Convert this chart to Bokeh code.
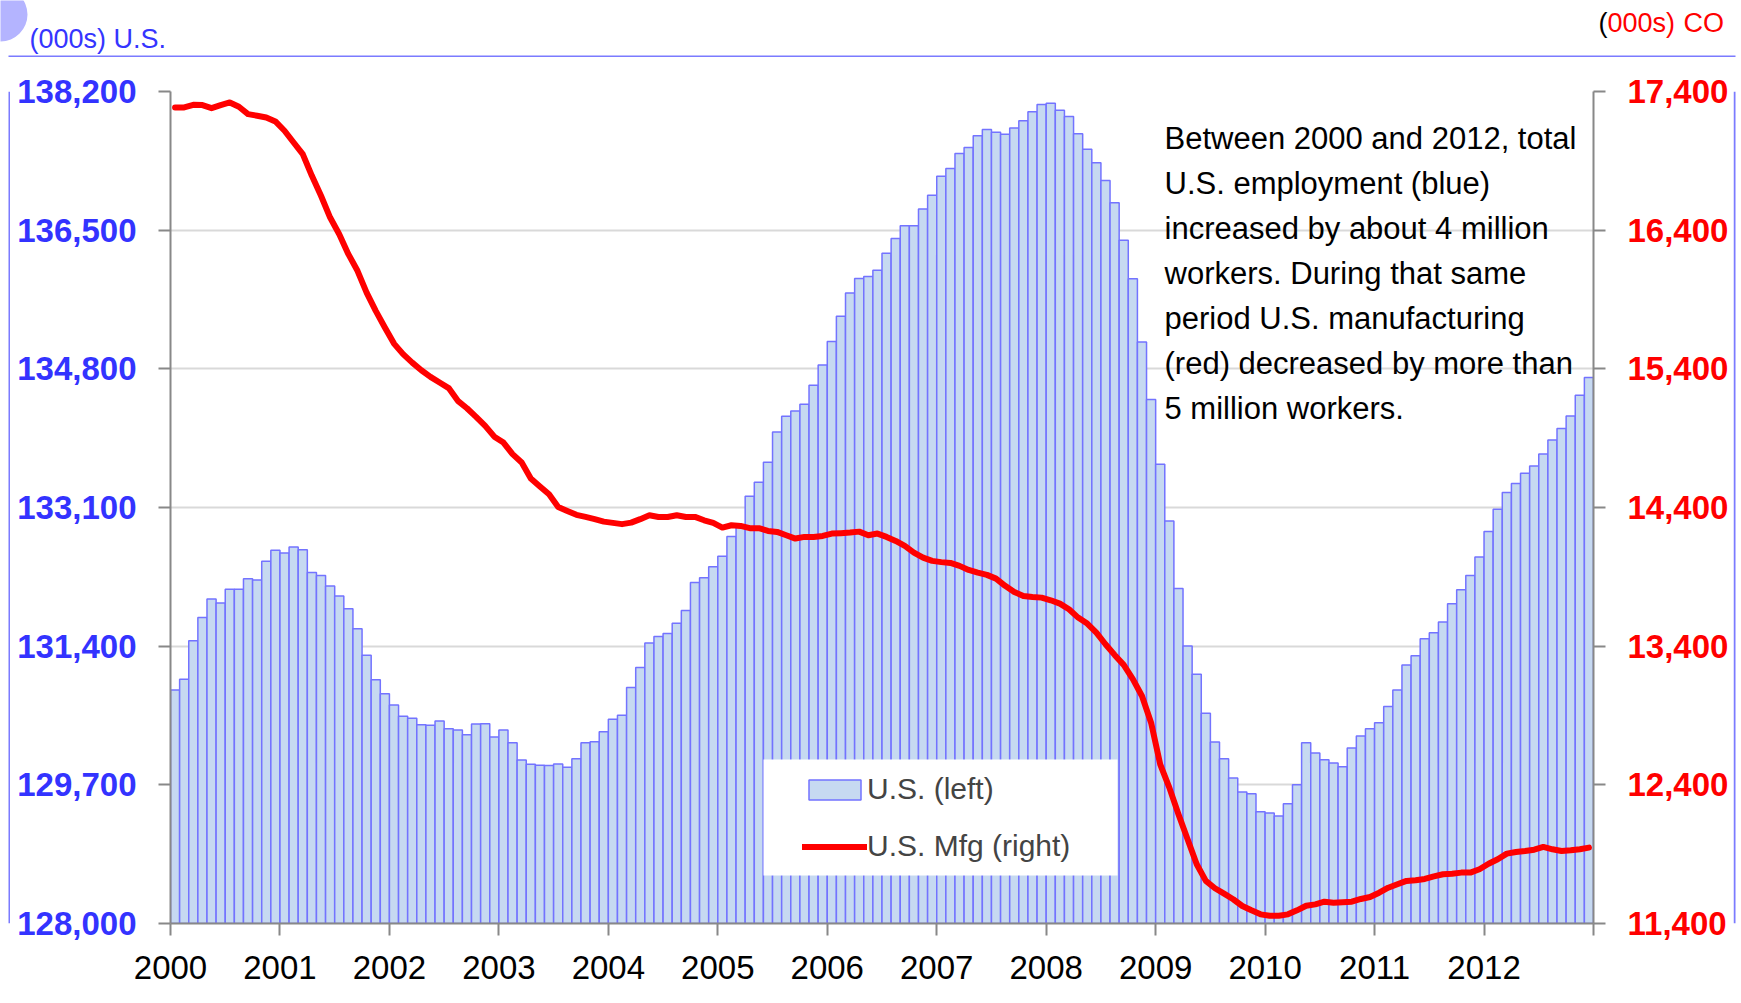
from bokeh.plotting import figure
from bokeh.layouts import column, row
from bokeh.models import (Range1d, LinearAxis, FixedTicker, NumeralTickFormatter, Label,
                          BoxAnnotation, Legend, LegendItem, ColumnDataSource)
from bokeh.embed import file_html
from bokeh.resources import INLINE

# ---------------- data ----------------
years = [str(y) for y in range(2000, 2013)]

# Total U.S. nonfarm employment (000s), monthly Jan 2000 - Dec 2012 (left axis)
us_emp = [
    130863, 130994, 131467, 131750, 131979, 131930, 132097, 132097, 132228, 132212, 132441, 132576,
    132543, 132616, 132583, 132302, 132265, 132138, 132016, 131860, 131615, 131288, 130989, 130818,
    130679, 130540, 130516, 130438, 130430, 130483, 130389, 130373, 130315, 130446, 130450, 130287,
    130373, 130217, 130005, 129952, 129940, 129936, 129956, 129915, 130021, 130217, 130229, 130352,
    130504, 130553, 130892, 131137, 131440, 131517, 131554, 131681, 131836, 132179, 132240, 132375,
    132502, 132743, 132880, 133238, 133410, 133655, 134027, 134219, 134284, 134366, 134600, 134848,
    135134, 135445, 135731, 135907, 135931, 136009, 136218, 136397, 136553, 136553, 136761, 136929,
    137162, 137256, 137440, 137513, 137657, 137734, 137701, 137677, 137754, 137840, 137951, 138040,
    138057, 137971, 137893, 137681, 137493, 137325, 137108, 136835, 136377, 135903, 135130, 134423,
    133630, 132935, 132106, 131403, 131055, 130577, 130226, 130021, 129784, 129612, 129592, 129371,
    129355, 129318, 129469, 129702, 130217, 130091, 130009, 129968, 129923, 130152, 130299, 130389,
    130462, 130659, 130863, 131170, 131284, 131492, 131566, 131697, 131921, 132093, 132265, 132494,
    132805, 133079, 133283, 133393, 133520, 133610, 133757, 133929, 134067, 134223, 134476, 134693,
]

# U.S. manufacturing employment (000s), monthly Jan 2000 - Dec 2012 (right axis)
us_mfg = [
    17285, 17285, 17304, 17302, 17280, 17302, 17321, 17290, 17237, 17225, 17213, 17184,
    17117, 17032, 16949, 16792, 16648, 16491, 16371, 16227, 16107, 15950, 15818, 15698,
    15582, 15506, 15445, 15390, 15342, 15301, 15261, 15169, 15116, 15054, 14989, 14911,
    14868, 14785, 14724, 14610, 14552, 14496, 14404, 14375, 14347, 14332, 14316, 14298,
    14289, 14280, 14291, 14316, 14344, 14332, 14332, 14344, 14332, 14332, 14308, 14289,
    14255, 14272, 14267, 14251, 14251, 14231, 14224, 14200, 14176, 14188, 14188, 14195,
    14212, 14215, 14219, 14226, 14200, 14212, 14188, 14159, 14123, 14075, 14039, 14015,
    14006, 14000, 13979, 13950, 13931, 13914, 13887, 13835, 13791, 13762, 13755, 13750,
    13731, 13707, 13666, 13606, 13563, 13498, 13414, 13337, 13265, 13162, 13041, 12848,
    12548, 12380, 12188, 12007, 11827, 11707, 11654, 11615, 11575, 11526, 11495, 11466,
    11456, 11456, 11466, 11495, 11528, 11538, 11557, 11550, 11553, 11557, 11577, 11591,
    11622, 11658, 11683, 11707, 11712, 11721, 11740, 11755, 11759, 11767, 11767, 11791,
    11831, 11863, 11904, 11916, 11923, 11932, 11952, 11935, 11923, 11928, 11935, 11947,
]

left_ticks = [128000, 129700, 131400, 133100, 134800, 136500, 138200]
right_ticks = [11400, 12400, 13400, 14400, 15400, 16400, 17400]

note_lines = [
    "Between 2000 and 2012, total",
    "U.S. employment (blue)",
    "increased by about 4 million",
    "workers. During that same",
    "period U.S. manufacturing",
    "(red) decreased by more than",
    "5 million workers.",
]

FONT = "Liberation Sans"
FRAME = "#7b7bff"
W = 1740          # total width
HH = 57           # header height
H = 944           # main row height

# ---------------- header strip (texts above the blue frame) ----------------
hd = figure(width=W, height=HH, output_backend="svg", toolbar_location=None,
            x_range=Range1d(0, W), y_range=Range1d(0, HH),
            x_axis_type=None, y_axis_type=None, min_border=0)
hd.outline_line_color = None
hd.circle(x=[0], y=[43], radius=27, fill_color="#b4b4ff", line_color=None)
hd.quad(left=[8], right=[1735], bottom=[0], top=[2], fill_color=FRAME, line_color=None)
hd.add_layout(Label(x=29, y=19, text="(000s) U.S.", text_font=FONT, text_font_size="27px",
                    text_color="#3535ff", text_baseline="alphabetic"))
hd.add_layout(Label(x=1598, y=35, text="(", text_font=FONT, text_font_size="27px",
                    text_color="black", text_baseline="alphabetic"))
hd.add_layout(Label(x=1607, y=35, text="000s)", text_font=FONT, text_font_size="27px",
                    text_color="#ff0000", text_baseline="alphabetic"))
hd.add_layout(Label(x=1683, y=35, text="CO", text_font=FONT, text_font_size="27px",
                    text_color="#ff0000", text_baseline="alphabetic"))

# ---------------- side strips (left/right edges of the blue frame) ----------------
def strip(width, x0):
    s = figure(width=width, height=H, output_backend="svg", toolbar_location=None,
               x_range=Range1d(0, width), y_range=Range1d(0, 1),
               x_axis_type=None, y_axis_type=None, min_border=0)
    s.outline_line_color = None
    s.quad(left=[x0], right=[x0 + 2], bottom=[0], top=[1], fill_color=FRAME, line_color=None)
    return s

ls = strip(10, 8)
rs = strip(W - 10 - 1723, 0)

# ---------------- main chart ----------------
n = len(us_emp)
src = ColumnDataSource(dict(x=[i + 0.5 for i in range(n)], emp=us_emp, mfg=us_mfg))

p = figure(width=1723, height=H, output_backend="svg", toolbar_location=None,
           x_range=Range1d(0, n), y_range=Range1d(left_ticks[0], left_ticks[-1]),
           min_border_left=160, min_border_right=140, min_border_top=34, min_border_bottom=78)
p.extra_y_ranges = {"mfg": Range1d(right_ticks[0], right_ticks[-1])}
p.outline_line_color = None
p.background_fill_color = "white"
p.border_fill_color = "white"

p.xgrid.visible = False
p.ygrid.grid_line_color = "#d9d9d9"
p.ygrid.grid_line_width = 2

bars = p.vbar(x="x", width=1, top="emp", bottom=left_ticks[0], source=src,
              fill_color="#c6d9f1", line_color="#7373ff", line_width=1.5)
mline = p.line(x="x", y="mfg", source=src, y_range_name="mfg",
               line_color="#ff0000", line_width=6, line_join="round", line_cap="round")


def style_axis(ax, color, bold, size, standoff):
    ax.axis_line_color = "#888888"
    ax.axis_line_width = 2
    ax.major_tick_line_color = "#888888"
    ax.major_tick_line_width = 2
    ax.major_tick_out = 12
    ax.major_tick_in = 0
    ax.minor_tick_line_color = None
    ax.major_label_text_font = FONT
    ax.major_label_text_font_size = size
    ax.major_label_text_color = color
    ax.major_label_text_font_style = "bold" if bold else "normal"
    ax.major_label_standoff = standoff


ly = p.yaxis[0]
ly.ticker = FixedTicker(ticks=left_ticks)
ly.formatter = NumeralTickFormatter(format="0,0")
style_axis(ly, "#3333ff", True, "33px", 22)

ry = LinearAxis(y_range_name="mfg", ticker=FixedTicker(ticks=right_ticks),
                formatter=NumeralTickFormatter(format="0,0"))
style_axis(ry, "#ff0000", True, "33px", 22)
p.add_layout(ry, "right")

xa = p.xaxis[0]
xa.ticker = FixedTicker(ticks=[12 * k for k in range(len(years) + 1)])
ov = {12 * k: years[k] for k in range(len(years))}
ov[12 * len(years)] = ""
xa.major_label_overrides = ov
style_axis(xa, "black", False, "33px", 20)

for k, t in enumerate(note_lines):
    p.add_layout(Label(x=1154, y=81 + 45 * k, x_units="canvas", y_units="canvas", text=t,
                       text_font=FONT, text_font_size="31px", text_color="black",
                       text_baseline="alphabetic"))

# legend: white box behind, then legend items
p.add_layout(BoxAnnotation(left=753, right=1107, top=702, bottom=818,
                           left_units="canvas", right_units="canvas",
                           top_units="canvas", bottom_units="canvas",
                           fill_color="white", fill_alpha=1, line_color=None))
legend = Legend(items=[LegendItem(label="U.S. (left)", renderers=[bars]),
                       LegendItem(label="U.S. Mfg (right)", renderers=[mline])],
                location=(632, 60), orientation="vertical",
                background_fill_alpha=0, border_line_color=None,
                label_text_font=FONT, label_text_font_size="30px",
                glyph_width=65, glyph_height=25, label_height=25,
                spacing=23, padding=10, label_standoff=0, margin=0)
p.add_layout(legend, "center")

layout = column(hd, row(ls, p, rs))
open("out.html", "w").write(file_html(layout, INLINE))
